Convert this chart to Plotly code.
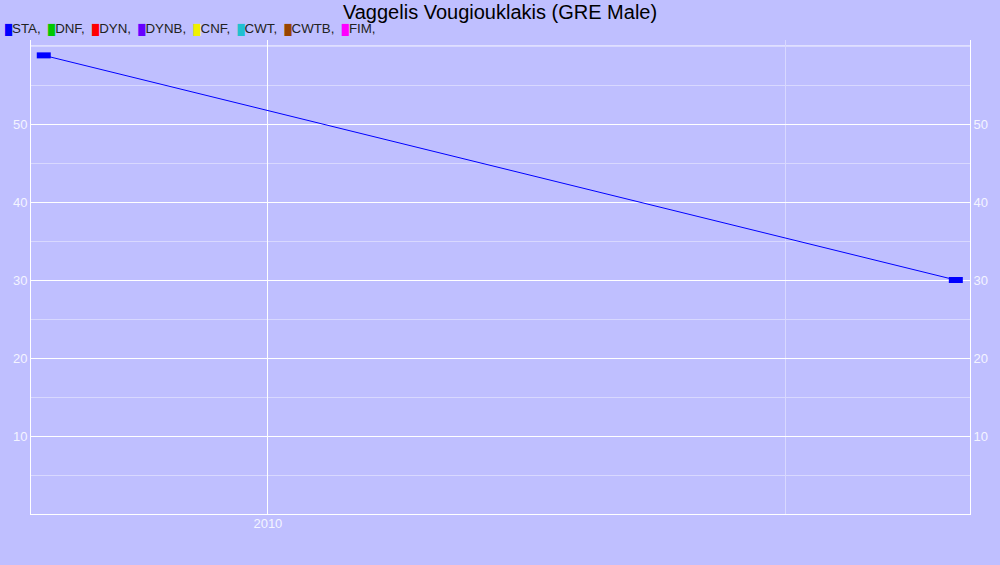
import plotly.graph_objects as go

title = "Vaggelis Vougiouklakis (GRE Male)"
categories = ["STA", "DNF", "DYN", "DYNB", "CNF", "CWT", "CWTB", "FIM"]
cat_colors = ["#0000ff", "#00c800", "#ff0000", "#6600ff", "#f0f000", "#20c0d0", "#994400", "#ff00ff"]

sta_dates = ["2009-07-27", "2011-05-01"]
sta_values = [58.8, 30]

y_ticks = [10, 20, 30, 40, 50]
y_minor = [5, 15, 25, 35, 45, 55, 60]
x_major = ["2010-01-01"]
x_labels = ["2010"]
x_minor = ["2011-01-01"]

bg = "#bfbfff"
fig = go.Figure()
fig.add_trace(go.Scatter(
    x=sta_dates, y=sta_values, mode="lines+markers",
    line=dict(color=cat_colors[0], width=1),
    marker=dict(symbol="line-ew", size=10, line=dict(width=6, color=cat_colors[0])),
    showlegend=False, hoverinfo="x+y"))
fig.add_trace(go.Scatter(
    x=sta_dates, y=sta_values, yaxis="y2", mode="lines",
    line=dict(color="rgba(0,0,0,0)", width=0), showlegend=False, hoverinfo="skip"))

legend_text = " ".join(
    f'<span style="color:{c};font-size:10px">█</span>{n}, ' for n, c in zip(categories, cat_colors))
fig.add_annotation(text=legend_text.rstrip(), xref="paper", yref="paper",
                   x=-28/939, y=1 + 11/474, xanchor="left", yanchor="middle",
                   showarrow=False, font=dict(size=13.3, color="#222222"))

tickfont = dict(size=13, color="#f4f4ff", family="Liberation Sans, Arial")
yrange = [0, 60.77]
fig.update_layout(
    width=1000, height=565,
    paper_bgcolor=bg, plot_bgcolor=bg,
    margin=dict(l=31, r=30, t=40, b=51),
    font=dict(family="Liberation Sans, Arial", color="#222222"),
    title=dict(text=title, x=0.5, xanchor="center", y=1 - 12/565, yanchor="middle",
               font=dict(size=20, color="#000000")),
    xaxis=dict(type="date", range=["2009-07-18", "2011-05-11"],
               tickmode="array", tickvals=x_major, ticktext=x_labels,
               showgrid=True, gridcolor="#ffffff", gridwidth=1,
               minor=dict(tickmode="array", tickvals=x_minor, showgrid=True,
                          gridcolor="#d8d8ff", gridwidth=1),
               showline=True, linecolor="#ffffff", linewidth=1,
               ticks="", tickfont=tickfont, zeroline=False, ticklabelstandoff=-3),
    yaxis=dict(range=yrange, tickmode="array", tickvals=y_ticks,
               showgrid=True, gridcolor="#ffffff", gridwidth=1,
               minor=dict(tickmode="array", tickvals=y_minor, showgrid=True,
                          gridcolor="#d8d8ff", gridwidth=1),
               showline=True, linecolor="#ffffff", linewidth=1,
               ticks="", tickfont=tickfont, zeroline=False),
    yaxis2=dict(range=yrange, overlaying="y", side="right", tickmode="array",
                tickvals=y_ticks, showgrid=False, showline=True,
                linecolor="#ffffff", linewidth=1, ticks="", tickfont=tickfont,
                zeroline=False),
)
fig.add_shape(type="line", xref="paper", yref="y", x0=0, x1=1, y0=60, y1=60,
              line=dict(color="#ffffff", width=1), layer="below")
fig.write_html("out.html", config={"displayModeBar": False},
               post_script="document.body.style.margin='0';document.body.style.padding='0';document.body.style.overflow='hidden';")
